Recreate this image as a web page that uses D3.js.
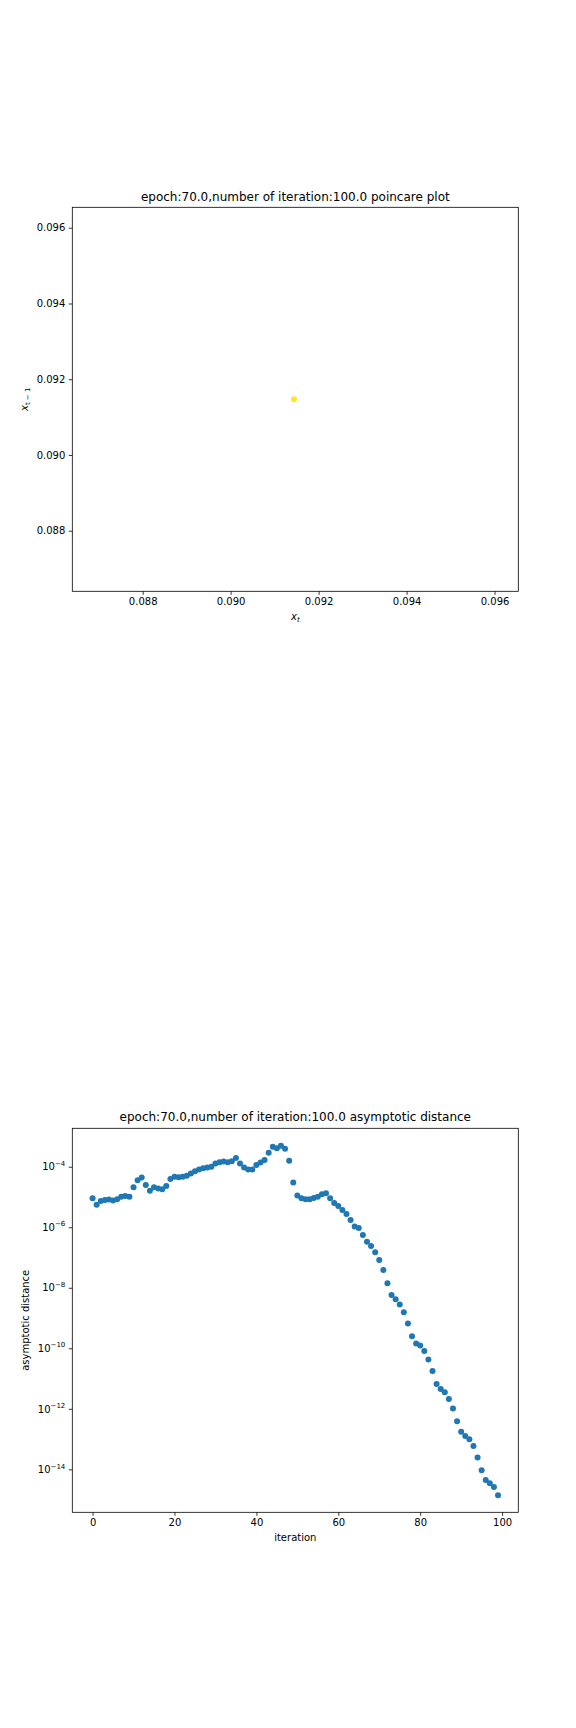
<!DOCTYPE html>
<html><head><meta charset="utf-8">
<script src="https://cdn.jsdelivr.net/npm/d3@7"></script>
<style>body{margin:0;background:#fff}text{font-family:"DejaVu Sans",sans-serif;fill:#000}</style>
</head><body>
<svg id="c" width="576" height="1728"></svg>
<script>
// Poincare plot data
const xt = [0.09144];
const xt1 = [0.09147];
const poincareTicks = [0.088, 0.090, 0.092, 0.094, 0.096];

// Asymptotic distance data
const iteration = d3.range(0, 100);
const distance = [
9.1e-6,5.5e-6,7.4e-6,7.9e-6,8.3e-6,7.6e-6,8.5e-6,1.02e-5,1.07e-5,1.02e-5,
2.1e-5,3.6e-5,4.4e-5,2.5e-5,1.6e-5,2.1e-5,1.9e-5,1.8e-5,2.3e-5,3.9e-5,
4.7e-5,4.5e-5,4.7e-5,5.0e-5,6.0e-5,7.1e-5,8.1e-5,8.9e-5,9.5e-5,1.0e-4,
1.29e-4,1.41e-4,1.48e-4,1.41e-4,1.51e-4,1.95e-4,1.29e-4,9.5e-5,8.1e-5,8.1e-5,
1.15e-4,1.38e-4,1.66e-4,2.9e-4,4.6e-4,4.1e-4,4.9e-4,3.9e-4,1.58e-4,3.0e-5,
1.12e-5,9.1e-6,8.5e-6,8.5e-6,9.3e-6,1.02e-5,1.23e-5,1.32e-5,9.1e-6,6.3e-6,
5.0e-6,3.7e-6,2.75e-6,1.74e-6,1.05e-6,9.5e-7,5.5e-7,3.3e-7,2.4e-7,1.48e-7,
8.3e-8,3.9e-8,1.41e-8,5.8e-9,4.2e-9,2.8e-9,1.55e-9,6.6e-10,2.5e-10,1.45e-10,
1.23e-10,8.1e-11,4.3e-11,1.78e-11,6.6e-12,4.5e-12,3.5e-12,2.1e-12,1.02e-12,3.9e-13,
1.74e-13,1.26e-13,9.8e-14,5.9e-14,2.45e-14,9.3e-15,4.4e-15,3.5e-15,2.6e-15,1.38e-15];
const iterTicks = [0, 20, 40, 60, 80, 100];
const logTickExps = [-4, -6, -8, -10, -12, -14];

const svg = d3.select("#c");
svg.append("rect").attr("width",576).attr("height",1728).attr("fill","#fff");

const L = 72.3, R = 518.3;

function frame(g, top, bottom){
  g.append("rect").attr("x",L).attr("y",top).attr("width",R-L).attr("height",bottom-top)
   .attr("fill","none").attr("stroke","#000").attr("stroke-width",0.8);
}

// ---------- Top chart ----------
{
  const top = 207.3, bottom = 591.3;
  const x = d3.scaleLinear().domain([0.08640, 0.09654]).range([L, R]);
  const y = d3.scaleLinear().domain([0.08640, 0.09654]).range([bottom, top]);
  const g = svg.append("g");
  const xa = g.append("g").attr("transform",`translate(0,${bottom})`)
    .call(d3.axisBottom(x).tickValues(poincareTicks).tickFormat(d3.format(".3f")).tickSize(3.5).tickPadding(3.5));
  const ya = g.append("g").attr("transform",`translate(${L},0)`)
    .call(d3.axisLeft(y).tickValues(poincareTicks).tickFormat(d3.format(".3f")).tickSize(3.5).tickPadding(3.5));
  [xa,ya].forEach(a=>{a.select(".domain").remove();a.selectAll("text").attr("font-size",10).attr("font-family","DejaVu Sans");a.selectAll("line").attr("stroke","#000").attr("stroke-width",0.8);});
  frame(g, top, bottom);
  g.selectAll("circle.p").data(xt).join("circle").attr("class","p")
    .attr("cx",(d)=>x(d)).attr("cy",(d,i)=>y(xt1[i])).attr("r",3).attr("fill","#fde725");
  g.append("text").attr("x",(L+R)/2).attr("y",201).attr("text-anchor","middle").attr("font-size",12)
    .text("epoch:70.0,number of iteration:100.0 poincare plot");
  const xl = g.append("text").attr("x",(L+R)/2).attr("y",620).attr("text-anchor","middle").attr("font-size",10);
  xl.append("tspan").attr("font-style","italic").text("x");
  xl.append("tspan").attr("font-style","italic").attr("font-size",7).attr("dy",2).text("t");
  const yl = g.append("text").attr("transform",`translate(28,${(top+bottom)/2}) rotate(-90)`).attr("text-anchor","middle").attr("font-size",10);
  yl.append("tspan").attr("font-style","italic").text("x");
  yl.append("tspan").attr("font-size",7).attr("dy",2).text("t − 1");
}

// ---------- Bottom chart ----------
{
  const top = 1128.3, bottom = 1512.3;
  const x = d3.scaleLinear().domain([-4.95, 103.95]).range([L, R]);
  const y = d3.scaleLog().domain([Math.pow(10,-15.42), Math.pow(10,-2.73)]).range([bottom, top]);
  const g = svg.append("g");
  const xa = g.append("g").attr("transform",`translate(0,${bottom})`)
    .call(d3.axisBottom(x).tickValues(iterTicks).tickFormat(d3.format("d")).tickSize(3.5).tickPadding(3.5));
  xa.select(".domain").remove();
  xa.selectAll("text").attr("font-size",10).attr("font-family","DejaVu Sans");
  xa.selectAll("line").attr("stroke","#000").attr("stroke-width",0.8);
  const ya = g.append("g").attr("transform",`translate(${L},0)`)
    .call(d3.axisLeft(y).tickValues(logTickExps.map(e=>Math.pow(10,e))).tickFormat(()=>"").tickSize(3.5));
  ya.select(".domain").remove();
  ya.selectAll("line").attr("stroke","#000").attr("stroke-width",0.8);
  ya.selectAll(".tick").each(function(d){
    const e = Math.round(Math.log10(d));
    const t = d3.select(this).select("text").attr("x",-7).attr("dy","0.32em").attr("font-size",10).attr("text-anchor","end");
    t.text(null);
    t.append("tspan").text("10");
    t.append("tspan").attr("font-size",7).attr("dy",-4.5).text("−"+Math.abs(e));
  });
  frame(g, top, bottom);
  g.selectAll("circle.d").data(distance).join("circle").attr("class","d")
    .attr("cx",(d,i)=>x(iteration[i])).attr("cy",d=>y(d)).attr("r",3).attr("fill","#1f77b4");
  g.append("text").attr("x",(L+R)/2).attr("y",1121).attr("text-anchor","middle").attr("font-size",12)
    .text("epoch:70.0,number of iteration:100.0 asymptotic distance");
  g.append("text").attr("x",(L+R)/2).attr("y",1541).attr("text-anchor","middle").attr("font-size",10).text("iteration");
  g.append("text").attr("transform",`translate(29,${(top+bottom)/2}) rotate(-90)`).attr("text-anchor","middle").attr("font-size",10).text("asymptotic distance");
}
</script>
</body></html>
